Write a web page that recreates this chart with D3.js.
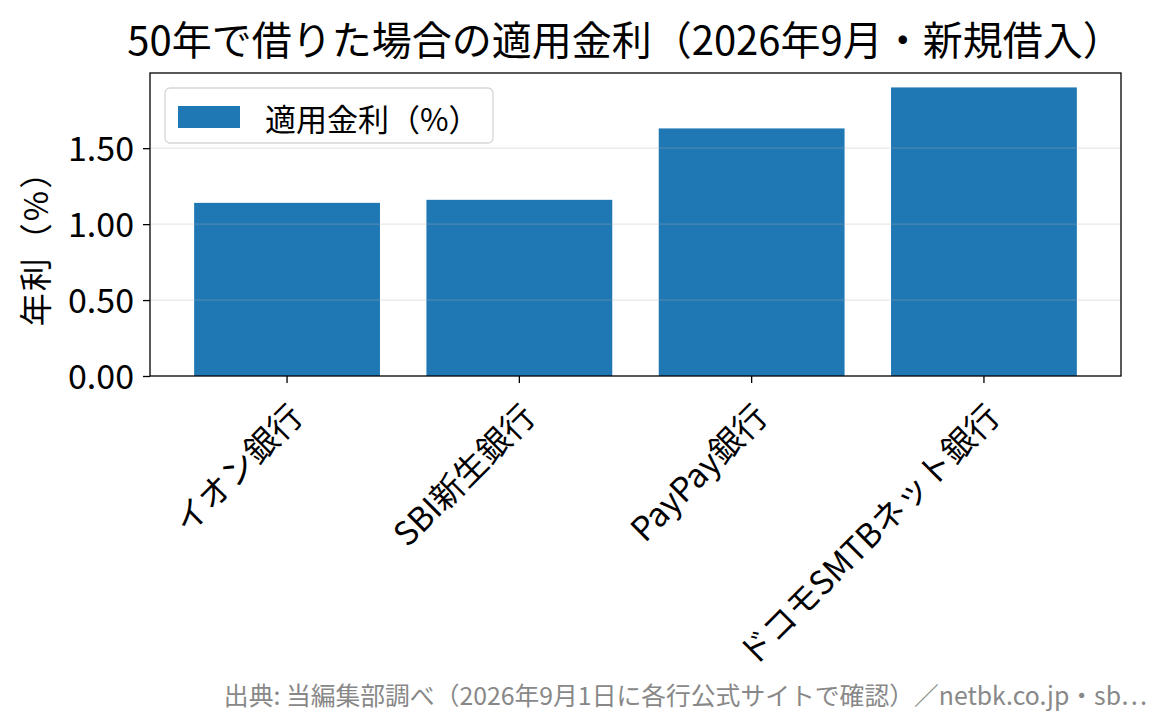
<!DOCTYPE html>
<html>
<head>
<meta charset="utf-8">
<script src="https://cdn.jsdelivr.net/npm/d3@7"></script>
<style>
  body { margin: 0; background: #fff; }
  text { font-family: "Noto Sans CJK JP", "Noto Sans", sans-serif; }
</style>
</head>
<body>
<div id="chart-area"></div>
<script>
// data
var banks = ["イオン銀行", "SBI新生銀行", "PayPay銀行", "ドコモSMTBネット銀行"];
var rates = [1.14, 1.16, 1.63, 1.90];
var yTicks = [0, 0.5, 1.0, 1.5];

var titleText = "50年で借りた場合の適用金利（2026年9月・新規借入）";
var yLabelText = "年利（%）";
var legendText = "適用金利（%）";
var sourceText = "出典: 当編集部調べ（2026年9月1日に各行公式サイトで確認）／netbk.co.jp・sb…";

var data = banks.map(function(b, i){ return {bank: b, rate: rates[i]}; });

//creating margin
var margin = {left:150, right:44, top:73, bottom:349};
var width = 1165 - margin.left - margin.right;
var height = 725 - margin.top - margin.bottom;

var barColor = "#1f77b4";

//SVG Canvas
var svg = d3.select("#chart-area")
    .append("svg")
    .attr("width", 1165)
    .attr("height", 725);

var g = svg.append("g")
    .attr("transform", "translate(" + margin.left + "," + margin.top + ")");

//x-scale
var x = d3.scaleBand()
    .domain(banks)
    .range([0, width])
    .paddingInner(0.2)
    .paddingOuter(0.19);

//y-scale
var y = d3.scaleLinear()
    .domain([0, d3.max(rates) * 1.05])
    .range([height, 0]);

// bars
g.selectAll("rect.bar")
    .data(data)
    .enter()
    .append("rect")
    .attr("class", "bar")
    .attr("x", function(d){ return x(d.bank); })
    .attr("y", function(d){ return y(d.rate); })
    .attr("width", x.bandwidth())
    .attr("height", function(d){ return height - y(d.rate); })
    .attr("fill", barColor);

// horizontal grid, drawn over the bars
g.selectAll("line.grid")
    .data(yTicks.filter(function(t){ return t > 0; }))
    .enter()
    .append("line")
    .attr("class", "grid")
    .attr("x1", 0)
    .attr("x2", width)
    .attr("y1", function(d){ return y(d); })
    .attr("y2", function(d){ return y(d); })
    .attr("stroke", "#b0b0b0")
    .attr("stroke-opacity", 0.3)
    .attr("stroke-width", 1.2);

// y axis
var yAxisCall = d3.axisLeft(y)
    .tickValues(yTicks)
    .tickFormat(d3.format(".2f"))
    .tickSize(7)
    .tickPadding(9);
var yAxisGroup = g.append("g")
    .attr("class", "y axis")
    .call(yAxisCall);
yAxisGroup.select(".domain").remove();
yAxisGroup.selectAll("text")
    .attr("font-size", "34px")
    .attr("fill", "#000")
    .attr("dy", "0.36em");
yAxisGroup.selectAll("line").attr("stroke", "#000").attr("stroke-width", 1.3);

// x axis
var xAxisCall = d3.axisBottom(x)
    .tickSize(7)
    .tickFormat(function(d){ return d; });
var xAxisGroup = g.append("g")
    .attr("class", "x axis")
    .attr("transform", "translate(0," + height + ")")
    .call(xAxisCall);
xAxisGroup.select(".domain").remove();
xAxisGroup.selectAll("line").attr("stroke", "#000").attr("stroke-width", 1.3);
xAxisGroup.selectAll("text")
    .attr("font-size", "33px")
    .attr("fill", "#000")
    .attr("text-anchor", "end")
    .attr("dominant-baseline", "central")
    .attr("x", null)
    .attr("y", null)
    .attr("dy", null)
    .attr("transform", "translate(8,33) rotate(-45)");

// frame
g.append("rect")
    .attr("x", 0)
    .attr("y", 0)
    .attr("width", width)
    .attr("height", height)
    .attr("fill", "none")
    .attr("stroke", "#000")
    .attr("stroke-width", 1.3);

// title
svg.append("text")
    .attr("x", 625)
    .attr("y", 38)
    .attr("text-anchor", "middle")
    .attr("dominant-baseline", "central")
    .attr("font-size", "40px")
    .attr("fill", "#000")
    .text(titleText);

// y label
svg.append("text")
    .attr("transform", "translate(34,240) rotate(-90)")
    .attr("text-anchor", "middle")
    .attr("dominant-baseline", "central")
    .attr("font-size", "33px")
    .attr("letter-spacing", "2px")
    .attr("fill", "#000")
    .text(yLabelText);

// legend
var legend = g.append("g")
    .attr("class", "legend")
    .attr("transform", "translate(15,15)");
legend.append("rect")
    .attr("width", 328)
    .attr("height", 55)
    .attr("rx", 5)
    .attr("fill", "#fff")
    .attr("fill-opacity", 0.8)
    .attr("stroke", "#d6d6d6")
    .attr("stroke-width", 1.3);
legend.append("rect")
    .attr("x", 13)
    .attr("y", 18)
    .attr("width", 62)
    .attr("height", 22)
    .attr("fill", barColor);
legend.append("text")
    .attr("x", 100)
    .attr("y", 29)
    .attr("dominant-baseline", "central")
    .attr("font-size", "31px")
    .attr("fill", "#000")
    .text(legendText);

// source note
svg.append("text")
    .attr("x", 1147)
    .attr("y", 694)
    .attr("text-anchor", "end")
    .attr("dominant-baseline", "central")
    .attr("font-size", "24.8px")
    .attr("fill", "#888")
    .text(sourceText);
</script>
</body>
</html>
